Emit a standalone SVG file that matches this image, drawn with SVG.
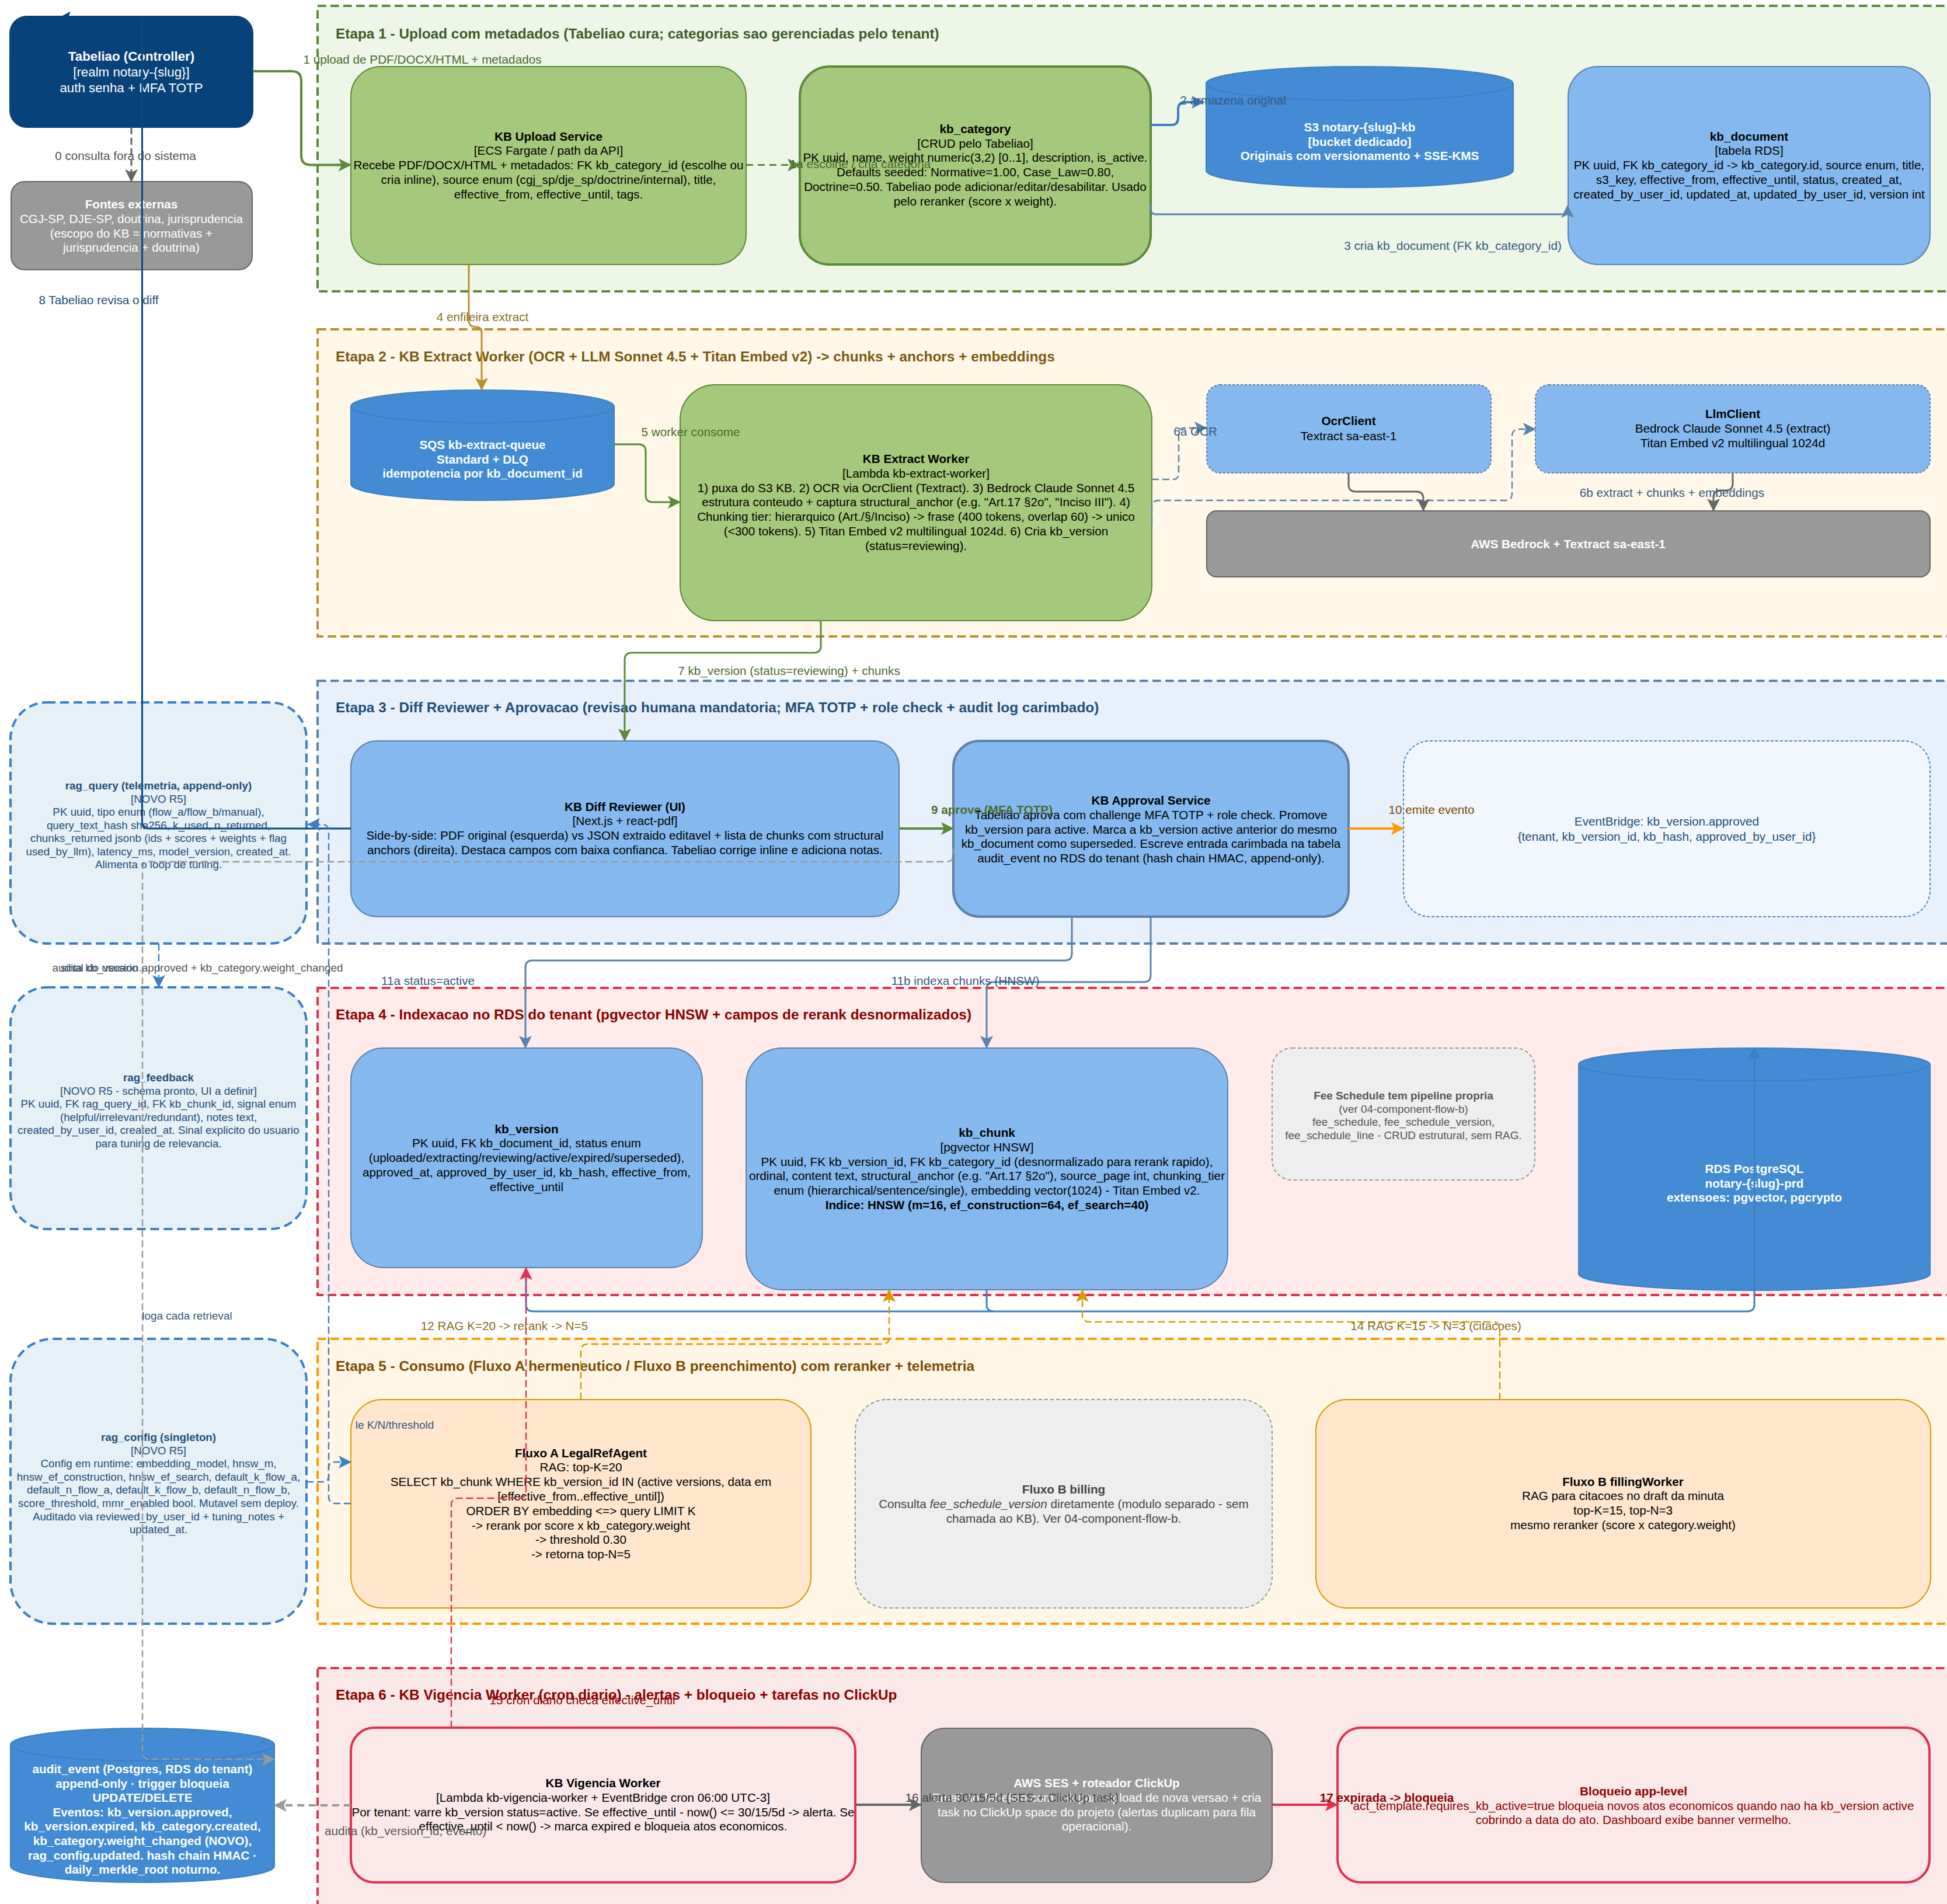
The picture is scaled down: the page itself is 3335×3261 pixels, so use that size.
<svg xmlns="http://www.w3.org/2000/svg" width="3335" height="3261" viewBox="0 0 3335 3261">
<style>
text{font-family:"Liberation Sans",Arial,sans-serif;font-size:20.7px;text-anchor:middle}
.b{font-weight:700}
.w{fill:#fff}.k{fill:#000}.n{fill:#1f4e79;font-size:18.8px}.g{fill:#555;font-size:18.9px}.gg{fill:#444}.r{fill:#8b0000}.eb{fill:#1f4e79}
.sm{font-size:18.9px}
.st{font-size:24.4px;font-weight:700;text-anchor:start}
.box{stroke-width:2}
.grn{fill:#a5c97c;stroke:#5a8a3a}.blu{fill:#85b8ef;stroke:#5a82aa}.gry{fill:#999;stroke:#666}.org{fill:#ffe6cc;stroke:#d79b00}
.rag{fill:#e6f0f7;stroke:#3c7fc4;stroke-width:4;stroke-dasharray:15 8}
.cyl{fill:#438bd4;stroke:#3d80c4;stroke-width:2}
.stage{stroke-width:4;stroke-dasharray:14.6 7.4}
path.c{fill:none;stroke-width:3}
path.d{stroke-width:2.4;stroke-dasharray:12 6}
</style>
<defs>
<marker id="mGreen" markerUnits="userSpaceOnUse" markerWidth="22" markerHeight="22" viewBox="0 0 22 22" refX="21" refY="11" orient="auto"><path d="M0 0L22 11L0 22L5 11Z" fill="#5a8a3a"/></marker>
<marker id="mGold" markerUnits="userSpaceOnUse" markerWidth="22" markerHeight="22" viewBox="0 0 22 22" refX="21" refY="11" orient="auto"><path d="M0 0L22 11L0 22L5 11Z" fill="#b8902a"/></marker>
<marker id="mBlue" markerUnits="userSpaceOnUse" markerWidth="22" markerHeight="22" viewBox="0 0 22 22" refX="21" refY="11" orient="auto"><path d="M0 0L22 11L0 22L5 11Z" fill="#3c7fc4"/></marker>
<marker id="mSteel" markerUnits="userSpaceOnUse" markerWidth="22" markerHeight="22" viewBox="0 0 22 22" refX="21" refY="11" orient="auto"><path d="M0 0L22 11L0 22L5 11Z" fill="#5a82aa"/></marker>
<marker id="mGrey" markerUnits="userSpaceOnUse" markerWidth="22" markerHeight="22" viewBox="0 0 22 22" refX="21" refY="11" orient="auto"><path d="M0 0L22 11L0 22L5 11Z" fill="#666"/></marker>
<marker id="mLGrey" markerUnits="userSpaceOnUse" markerWidth="22" markerHeight="22" viewBox="0 0 22 22" refX="21" refY="11" orient="auto"><path d="M0 0L22 11L0 22L5 11Z" fill="#999"/></marker>
<marker id="mOrange" markerUnits="userSpaceOnUse" markerWidth="22" markerHeight="22" viewBox="0 0 22 22" refX="21" refY="11" orient="auto"><path d="M0 0L22 11L0 22L5 11Z" fill="#ff9900"/></marker>
<marker id="mAmber" markerUnits="userSpaceOnUse" markerWidth="22" markerHeight="22" viewBox="0 0 22 22" refX="21" refY="11" orient="auto"><path d="M0 0L22 11L0 22L5 11Z" fill="#d79b00"/></marker>
<marker id="mRed" markerUnits="userSpaceOnUse" markerWidth="22" markerHeight="22" viewBox="0 0 22 22" refX="21" refY="11" orient="auto"><path d="M0 0L22 11L0 22L5 11Z" fill="#e0324f"/></marker>
</defs>
<rect width="3335" height="3261" fill="#fff"/>

<g id="stages">
<g id="stage-1"><rect class="stage" x="544" y="10" width="2800" height="489" fill="#eef6e8" stroke="#5a8a3a"/><text class="st" x="575" y="66" fill="#3d5c28">Etapa 1 - Upload com metadados (Tabeliao cura; categorias sao gerenciadas pelo tenant)</text></g>
<g id="stage-2"><rect class="stage" x="544" y="564" width="2800" height="526" fill="#fff7e8" stroke="#b8902a"/><text class="st" x="575" y="619" fill="#7a5a10">Etapa 2 - KB Extract Worker (OCR + LLM Sonnet 4.5 + Titan Embed v2) -&gt; chunks + anchors + embeddings</text></g>
<g id="stage-3"><rect class="stage" x="544" y="1166" width="2800" height="450" fill="#e8f1fb" stroke="#5a82aa"/><text class="st" x="575" y="1220" fill="#1f4e79">Etapa 3 - Diff Reviewer + Aprovacao (revisao humana mandatoria; MFA TOTP + role check + audit log carimbado)</text></g>
<g id="stage-4"><rect class="stage" x="544" y="1692" width="2800" height="526" fill="#ffecea" stroke="#e0324f"/><text class="st" x="575" y="1746" fill="#8b0000">Etapa 4 - Indexacao no RDS do tenant (pgvector HNSW + campos de rerank desnormalizados)</text></g>
<g id="stage-5"><rect class="stage" x="544" y="2293" width="2800" height="488" fill="#fff6e5" stroke="#ff9900"/><text class="st" x="575" y="2348" fill="#7a4b00">Etapa 5 - Consumo (Fluxo A hermeneutico / Fluxo B preenchimento) com reranker + telemetria</text></g>
<g id="stage-6"><rect class="stage" x="544" y="2857" width="2800" height="420" fill="#fbe9ea" stroke="#e0324f"/><text class="st" x="575" y="2911" fill="#8b0000">Etapa 6 - KB Vigencia Worker (cron diario) - alertas + bloqueio + tarefas no ClickUp</text></g>
</g>

<g id="nodes">
<g id="tabeliao"><rect x="17" y="28" width="416" height="190" rx="29" fill="#08427a" stroke="#08427a" stroke-width="2"/>
<text class="w" style="font-size:22.3px" x="225" y="104"><tspan class="b">Tabeliao (Controller)</tspan><tspan x="225" dy="27">[realm notary-{slug}]</tspan><tspan x="225" dy="27">auth senha + MFA TOTP</tspan></text></g>
<g id="fontes"><rect class="box gry" x="19" y="311" width="413" height="151" rx="23"/>
<text class="w" x="225" y="356.5"><tspan class="b">Fontes externas</tspan><tspan x="225" dy="25">CGJ-SP, DJE-SP, doutrina, jurisprudencia</tspan><tspan x="225" dy="25">(escopo do KB = normativas +</tspan><tspan x="225" dy="24.5">jurisprudencia + doutrina)</tspan></text></g>
<g id="kb-upload"><rect class="box grn" x="601" y="114" width="677" height="339" rx="51"/>
<text class="k" x="939.5" y="240.5"><tspan class="b">KB Upload Service</tspan><tspan x="939.5" dy="24.8">[ECS Fargate / path da API]</tspan><tspan x="939.5" dy="24.8">Recebe PDF/DOCX/HTML + metadados: FK kb_category_id (escolhe ou</tspan><tspan x="939.5" dy="24.8">cria inline), source enum (cgj_sp/dje_sp/doctrine/internal), title,</tspan><tspan x="939.5" dy="24.8">effective_from, effective_until, tags.</tspan></text></g>
<g id="kb-category"><rect class="grn" stroke-width="4" x="1370" y="114" width="601" height="339" rx="51"/>
<text class="k" x="1670.5" y="227.8"><tspan class="b">kb_category</tspan><tspan x="1670.5" dy="24.8">[CRUD pelo Tabeliao]</tspan><tspan x="1670.5" dy="24.8">PK uuid, name, weight numeric(3,2) [0..1], description, is_active.</tspan><tspan x="1670.5" dy="24.8">Defaults seeded: Normative=1.00, Case_Law=0.80,</tspan><tspan x="1670.5" dy="24.8">Doctrine=0.50. Tabeliao pode adicionar/editar/desabilitar. Usado</tspan><tspan x="1670.5" dy="24.8">pelo reranker (score x weight).</tspan></text></g>
<g id="s3"><path class="cyl" d="M2066 143a263 29 0 0 1 526 0V292a263 29 0 0 1-526 0Z"/><path class="cyl" style="fill:none" d="M2066 143a263 29 0 0 0 526 0"/>
<text class="w b" x="2329" y="225">S3 notary-{slug}-kb<tspan x="2329" dy="24.5">[bucket dedicado]</tspan><tspan x="2329" dy="24.5">Originais com versionamento + SSE-KMS</tspan></text></g>
<g id="kb-document"><rect class="box blu" x="2686" y="114" width="620" height="339" rx="51"/>
<text class="k" x="2996" y="240.5"><tspan class="b">kb_document</tspan><tspan x="2996" dy="24.8">[tabela RDS]</tspan><tspan x="2996" dy="24.8">PK uuid, FK kb_category_id -&gt; kb_category.id, source enum, title,</tspan><tspan x="2996" dy="24.8">s3_key, effective_from, effective_until, status, created_at,</tspan><tspan x="2996" dy="24.8">created_by_user_id, updated_at, updated_by_user_id, version int</tspan></text></g>
<g id="sqs"><path class="cyl" d="M601 696a225.5 28 0 0 1 451 0V829a225.5 28 0 0 1-451 0Z"/><path class="cyl" style="fill:none" d="M601 696a225.5 28 0 0 0 451 0"/>
<text class="w b" x="826.5" y="769">SQS kb-extract-queue<tspan x="826.5" dy="24.5">Standard + DLQ</tspan><tspan x="826.5" dy="24.5">idempotencia por kb_document_id</tspan></text></g>
<g id="kb-extract"><rect class="box grn" x="1165" y="659" width="808" height="404" rx="60"/>
<text class="k" x="1569" y="793"><tspan class="b">KB Extract Worker</tspan><tspan x="1569" dy="24.8">[Lambda kb-extract-worker]</tspan><tspan x="1569" dy="24.8">1) puxa do S3 KB. 2) OCR via OcrClient (Textract). 3) Bedrock Claude Sonnet 4.5</tspan><tspan x="1569" dy="24.8">estrutura conteudo + captura structural_anchor (e.g. "Art.17 §2o", "Inciso III"). 4)</tspan><tspan x="1569" dy="24.8">Chunking tier: hierarquico (Art./§/Inciso) -&gt; frase (400 tokens, overlap 60) -&gt; unico</tspan><tspan x="1569" dy="24.8">(&lt;300 tokens). 5) Titan Embed v2 multilingual 1024d. 6) Cria kb_version</tspan><tspan x="1569" dy="24.8">(status=reviewing).</tspan></text></g>
<g id="ocr-client"><rect class="box blu" stroke-dasharray="4 3" x="2067" y="659" width="487" height="151" rx="23"/>
<text class="k" x="2310" y="728"><tspan class="b">OcrClient</tspan><tspan x="2310" dy="26">Textract sa-east-1</tspan></text></g>
<g id="llm-client"><rect class="box blu" stroke-dasharray="4 3" x="2630" y="659" width="676" height="151" rx="23"/>
<text class="k" x="2968" y="716"><tspan class="b">LlmClient</tspan><tspan x="2968" dy="24.8">Bedrock Claude Sonnet 4.5 (extract)</tspan><tspan x="2968" dy="24.8">Titan Embed v2 multilingual 1024d</tspan></text></g>
<g id="aws-bedrock"><rect class="box gry" x="2067" y="875" width="1239" height="113" rx="17"/>
<text class="w b" x="2686" y="938.5">AWS Bedrock + Textract sa-east-1</text></g>
<g id="rag-query"><rect class="rag" x="18" y="1203" width="507" height="413" rx="62"/>
<text class="n" x="271.5" y="1352"><tspan class="b">rag_query (telemetria, append-only)</tspan><tspan x="271.5" dy="22.5">[NOVO R5]</tspan><tspan x="271.5" dy="22.5">PK uuid, tipo enum (flow_a/flow_b/manual),</tspan><tspan x="271.5" dy="22.5">query_text_hash sha256, k_used, n_returned,</tspan><tspan x="271.5" dy="22.5">chunks_returned jsonb (ids + scores + weights + flag</tspan><tspan x="271.5" dy="22.5">used_by_llm), latency_ms, model_version, created_at.</tspan><tspan x="271.5" dy="22.5">Alimenta o loop de tuning.</tspan></text></g>
<g id="kb-diff"><rect class="box blu" x="601" y="1269" width="939" height="301" rx="45"/>
<text class="k" x="1070.5" y="1388.5"><tspan class="b">KB Diff Reviewer (UI)</tspan><tspan x="1070.5" dy="24.8">[Next.js + react-pdf]</tspan><tspan x="1070.5" dy="24.8">Side-by-side: PDF original (esquerda) vs JSON extraido editavel + lista de chunks com structural</tspan><tspan x="1070.5" dy="24.8">anchors (direita). Destaca campos com baixa confianca. Tabeliao corrige inline e adiciona notas.</tspan></text></g>
<g id="kb-approval"><rect class="blu" stroke-width="4" x="1633" y="1269" width="677" height="301" rx="45"/>
<text class="k" x="1971.5" y="1378"><tspan class="b">KB Approval Service</tspan><tspan x="1971.5" dy="24.8">Tabeliao aprova com challenge MFA TOTP + role check. Promove</tspan><tspan x="1971.5" dy="24.8">kb_version para active. Marca a kb_version active anterior do mesmo</tspan><tspan x="1971.5" dy="24.8">kb_document como superseded. Escreve entrada carimbada na tabela</tspan><tspan x="1971.5" dy="24.8">audit_event no RDS do tenant (hash chain HMAC, append-only).</tspan></text></g>
<g id="eventbridge"><rect fill="#f2f7fe" stroke="#4a86c8" stroke-width="2" stroke-dasharray="5 3" x="2404" y="1269" width="902" height="301" rx="45"/>
<text class="eb" x="2855" y="1414">EventBridge: kb_version.approved<tspan x="2855" dy="25.5">{tenant, kb_version_id, kb_hash, approved_by_user_id}</tspan></text></g>
<g id="rag-feedback"><rect class="rag" x="18" y="1691" width="507" height="414" rx="62"/>
<text class="n" x="271.5" y="1852"><tspan class="b">rag_feedback</tspan><tspan x="271.5" dy="22.5">[NOVO R5 - schema pronto, UI a definir]</tspan><tspan x="271.5" dy="22.5">PK uuid, FK rag_query_id, FK kb_chunk_id, signal enum</tspan><tspan x="271.5" dy="22.5">(helpful/irrelevant/redundant), notes text,</tspan><tspan x="271.5" dy="22.5">created_by_user_id, created_at. Sinal explicito do usuario</tspan><tspan x="271.5" dy="22.5">para tuning de relevancia.</tspan></text></g>
<g id="kb-version"><rect class="box blu" x="601" y="1795" width="602" height="376" rx="56"/>
<text class="k" x="902" y="1940.5"><tspan class="b">kb_version</tspan><tspan x="902" dy="24.8">PK uuid, FK kb_document_id, status enum</tspan><tspan x="902" dy="24.8">(uploaded/extracting/reviewing/active/expired/superseded),</tspan><tspan x="902" dy="24.8">approved_at, approved_by_user_id, kb_hash, effective_from,</tspan><tspan x="902" dy="24.8">effective_until</tspan></text></g>
<g id="kb-chunk"><rect class="box blu" x="1278" y="1795" width="825" height="414" rx="62"/>
<text class="k" x="1690.5" y="1947"><tspan class="b">kb_chunk</tspan><tspan x="1690.5" dy="24.8">[pgvector HNSW]</tspan><tspan x="1690.5" dy="24.8">PK uuid, FK kb_version_id, FK kb_category_id (desnormalizado para rerank rapido),</tspan><tspan x="1690.5" dy="24.8">ordinal, content text, structural_anchor (e.g. "Art.17 §2o"), source_page int, chunking_tier</tspan><tspan x="1690.5" dy="24.8">enum (hierarchical/sentence/single), embedding vector(1024) - Titan Embed v2.</tspan><tspan x="1690.5" dy="24.8" class="b">Indice: HNSW (m=16, ef_construction=64, ef_search=40)</tspan></text></g>
<g id="fee-schedule"><rect fill="#eee" stroke="#999" stroke-width="2" stroke-dasharray="6 4" x="2179" y="1795" width="450" height="226" rx="34"/>
<text class="g" x="2404" y="1883"><tspan class="b">Fee Schedule tem pipeline propria</tspan><tspan x="2404" dy="22.5">(ver 04-component-flow-b)</tspan><tspan x="2404" dy="22.5">fee_schedule, fee_schedule_version,</tspan><tspan x="2404" dy="22.5">fee_schedule_line - CRUD estrutural, sem RAG.</tspan></text></g>
<g id="rds"><path class="cyl" d="M2704 1823a301 28 0 0 1 602 0V2182a301 28 0 0 1-602 0Z"/><path class="cyl" style="fill:none" d="M2704 1823a301 28 0 0 0 602 0"/>
<text class="w b" x="3005" y="2009">RDS PostgreSQL<tspan x="3005" dy="24.5">notary-{slug}-prd</tspan><tspan x="3005" dy="24.5">extensoes: pgvector, pgcrypto</tspan></text></g>
<g id="rag-config"><rect class="rag" x="18" y="2293" width="507" height="488" rx="73"/>
<text class="n" x="271.5" y="2468"><tspan class="b">rag_config (singleton)</tspan><tspan x="271.5" dy="22.6">[NOVO R5]</tspan><tspan x="271.5" dy="22.6">Config em runtime: embedding_model, hnsw_m,</tspan><tspan x="271.5" dy="22.6">hnsw_ef_construction, hnsw_ef_search, default_k_flow_a,</tspan><tspan x="271.5" dy="22.6">default_n_flow_a, default_k_flow_b, default_n_flow_b,</tspan><tspan x="271.5" dy="22.6">score_threshold, mmr_enabled bool. Mutavel sem deploy.</tspan><tspan x="271.5" dy="22.6">Auditado via reviewed_by_user_id + tuning_notes +</tspan><tspan x="271.5" dy="22.6">updated_at.</tspan></text></g>
<g id="fluxo-a"><rect class="box org" x="601" y="2397" width="788" height="357" rx="54"/>
<text class="k" x="995" y="2495.5"><tspan class="b">Fluxo A LegalRefAgent</tspan><tspan x="995" dy="24.8">RAG: top-K=20</tspan><tspan x="995" dy="24.8">SELECT kb_chunk WHERE kb_version_id IN (active versions, data em</tspan><tspan x="995" dy="24.8">[effective_from..effective_until])</tspan><tspan x="995" dy="24.8">ORDER BY embedding &lt;=&gt; query LIMIT K</tspan><tspan x="995" dy="24.8">-&gt; rerank por score x kb_category.weight</tspan><tspan x="995" dy="24.8">-&gt; threshold 0.30</tspan><tspan x="995" dy="24.8">-&gt; retorna top-N=5</tspan></text></g>
<g id="fluxo-b-billing"><rect fill="#eee" stroke="#999" stroke-width="2" stroke-dasharray="6 4" x="1465" y="2397" width="714" height="357" rx="54"/>
<text class="gg" x="1822" y="2558"><tspan class="b">Fluxo B billing</tspan><tspan x="1822" dy="24.8">Consulta <tspan font-style="italic">fee_schedule_version</tspan> diretamente (modulo separado - sem</tspan><tspan x="1822" dy="24.8">chamada ao KB). Ver 04-component-flow-b.</tspan></text></g>
<g id="fluxo-b-filling"><rect class="box org" x="2254" y="2397" width="1053" height="357" rx="54"/>
<text class="k" x="2780" y="2544.5"><tspan class="b">Fluxo B fillingWorker</tspan><tspan x="2780" dy="24.8">RAG para citacoes no draft da minuta</tspan><tspan x="2780" dy="24.8">top-K=15, top-N=3</tspan><tspan x="2780" dy="24.8">mesmo reranker (score x category.weight)</tspan></text></g>
<g id="audit-event"><path class="cyl" d="M18 2988a226 28 0 0 1 452 0V3196a226 28 0 0 1-452 0Z"/><path class="cyl" style="fill:none" d="M18 2988a226 28 0 0 0 452 0"/>
<text class="w b" x="244" y="3037">audit_event (Postgres, RDS do tenant)<tspan x="244" dy="24.6">append-only · trigger bloqueia</tspan><tspan x="244" dy="24.6">UPDATE/DELETE</tspan><tspan x="244" dy="24.6">Eventos: kb_version.approved,</tspan><tspan x="244" dy="24.6">kb_version.expired, kb_category.created,</tspan><tspan x="244" dy="24.6">kb_category.weight_changed (NOVO),</tspan><tspan x="244" dy="24.6">rag_config.updated. hash chain HMAC ·</tspan><tspan x="244" dy="24.6">daily_merkle_root noturno.</tspan></text></g>
<g id="kb-vigencia"><rect fill="#fbe9ea" stroke="#e0324f" stroke-width="4" x="601" y="2959" width="864" height="265" rx="40"/>
<text class="k" x="1033" y="3061"><tspan class="b">KB Vigencia Worker</tspan><tspan x="1033" dy="24.8">[Lambda kb-vigencia-worker + EventBridge cron 06:00 UTC-3]</tspan><tspan x="1033" dy="24.8">Por tenant: varre kb_version status=active. Se effective_until - now() &lt;= 30/15/5d -&gt; alerta. Se</tspan><tspan x="1033" dy="24.8">effective_until &lt; now() -&gt; marca expired e bloqueia atos economicos.</tspan></text></g>
<g id="aws-ses"><rect class="box gry" x="1578" y="2960" width="601" height="264" rx="40"/>
<text class="w" x="1878.5" y="3061"><tspan class="b">AWS SES + roteador ClickUp</tspan><tspan x="1878.5" dy="24.8">Email ao Tabeliao com link para upload de nova versao + cria</tspan><tspan x="1878.5" dy="24.8">task no ClickUp space do projeto (alertas duplicam para fila</tspan><tspan x="1878.5" dy="24.8">operacional).</tspan></text></g>
<g id="bloqueio"><rect fill="#fbe9ea" stroke="#e0324f" stroke-width="4" x="2291" y="2959" width="1014" height="265" rx="40"/>
<text class="r" x="2798" y="3075"><tspan class="b">Bloqueio app-level</tspan><tspan x="2798" dy="24.5">act_template.requires_kb_active=true bloqueia novos atos economicos quando nao ha kb_version active</tspan><tspan x="2798" dy="24.5">cobrindo a data do ato. Dashboard exibe banner vermelho.</tspan></text></g>
</g>

<g id="connectors">
<path class="c" stroke="#666" stroke-dasharray="12 6" marker-end="url(#mGrey)" d="M225 218V311"/>
<path class="c" stroke="#5a8a3a" style="stroke-width:4" marker-end="url(#mGreen)" d="M433 122H500Q516 122 516 138V266Q516 282.5 532 282.5H601"/>
<path class="c" stroke="#5a8a3a" stroke-dasharray="12 8" marker-end="url(#mGreen)" d="M1278 282.5H1370"/>
<path class="c" stroke="#3c7fc4" style="stroke-width:4" marker-end="url(#mBlue)" d="M1971 214H2006Q2018 214 2018 202V187Q2018 175 2030 175H2062"/>
<path class="c" stroke="#5a82aa" marker-end="url(#mSteel)" d="M1971 350V358Q1971 367 1980 367H2677Q2685 367 2685 362V352"/>
<path class="c" stroke="#b8902a" marker-end="url(#mGold)" d="M803 453V548Q803 560 815 560Q825 560 825 570V668"/>
<path class="c" stroke="#5a8a3a" marker-end="url(#mGreen)" d="M1052 761H1094Q1106 761 1106 773V848Q1106 860 1118 860H1165"/>
<path class="c d" stroke="#5a82aa" marker-end="url(#mSteel)" d="M1973 821H2009Q2019 821 2019 811V743Q2019 733 2029 733H2067"/>
<path class="c d" stroke="#5a82aa" marker-end="url(#mSteel)" d="M1973 895V869Q1973 857 1985 857H2578Q2590 857 2590 845V747Q2590 735 2602 735H2630"/>
<path class="c" stroke="#666" marker-end="url(#mGrey)" d="M2310 810V830Q2310 842 2322 842H2426Q2438 842 2438 854V875"/>
<path class="c" stroke="#666" marker-end="url(#mGrey)" d="M2968 810V828Q2968 840 2956 840H2947Q2935 840 2935 852V875"/>
<path class="c" stroke="#5a8a3a" marker-end="url(#mGreen)" d="M1406 1063V1106Q1406 1118 1394 1118H1082Q1070 1118 1070 1130V1269"/>
<path class="c" stroke="#0a4a85" d="M601 1419H255Q243.5 1419 243.5 1408V30"/>
<polygon points="105,28 121,19.5 117,29" fill="#08427a"/>
<path class="c" stroke="#5a8a3a" style="stroke-width:4" marker-end="url(#mGreen)" d="M1540 1419H1633"/>
<path class="c" stroke="#ff9900" style="stroke-width:4" marker-end="url(#mOrange)" d="M2310 1419H2404"/>
<path class="c d" stroke="#999" marker-end="url(#mLGrey)" d="M1633 1452V1464Q1633 1476 1621 1476H256Q244 1476 244 1488V3001Q244 3013 256 3013H470"/>
<path class="c d" stroke="#3c7fc4" marker-end="url(#mBlue)" d="M272 1616V1691"/>
<path class="c d" stroke="#3c7fc4" marker-end="url(#mBlue)" d="M601 2575H575Q563 2575 563 2563V1424Q563 1412 551 1412H527"/>
<path class="c d" stroke="#3c7fc4" marker-end="url(#mBlue)" d="M525 2538H553Q563 2538 563 2528V2514Q563 2504 573 2504H601"/>
<path class="c" stroke="#5a82aa" marker-end="url(#mSteel)" d="M1836 1570V1633Q1836 1645 1824 1645H912Q900 1645 900 1657V1795"/>
<path class="c" stroke="#5a82aa" marker-end="url(#mSteel)" d="M1971 1570V1670Q1971 1682 1959 1682H1702Q1690 1682 1690 1694V1795"/>
<path class="c" stroke="#3c7fc4" marker-end="url(#mBlue)" d="M901 2171V2234Q901 2246 913 2246H2993Q3005 2246 3005 2234V1795"/>
<path class="c" stroke="#3c7fc4" d="M1690 2209V2234Q1690 2246 1702 2246"/>
<path class="c d" stroke="#e0324f" marker-end="url(#mRed)" d="M773 2959V2578Q773 2566 785 2566H889Q901 2566 901 2554V2171"/>
<path class="c d" stroke="#d79b00" marker-end="url(#mAmber)" d="M995 2397V2314Q995 2302 1007 2302H1511Q1523 2302 1523 2290V2209"/>
<path class="c d" stroke="#d79b00" marker-end="url(#mAmber)" d="M2569 2397V2276Q2569 2264 2557 2264H1866Q1854 2264 1854 2252V2209"/>
<path class="c" stroke="#666" style="stroke-width:4" marker-end="url(#mGrey)" d="M1465 3091H1578"/>
<path class="c" stroke="#e0324f" style="stroke-width:4" marker-end="url(#mRed)" d="M2179 3091H2291"/>
<path class="c" stroke="#999" style="stroke-width:4" stroke-dasharray="12 8" marker-end="url(#mLGrey)" d="M601 3092H470"/>

<g id="connector-labels">
<text fill="#555" x="215" y="274">0 consulta fora do sistema</text>
<text fill="#4a6b2e" x="723.5" y="109">1 upload de PDF/DOCX/HTML + metadados</text>
<text fill="#4a6b2e" x="1473.5" y="288">1a escolhe / cria categoria</text>
<text fill="#35597f" x="2112" y="179">2 armazena original</text>
<text fill="#35597f" x="2488.5" y="428">3 cria kb_document (FK kb_category_id)</text>
<text fill="#8a6d1f" x="826.5" y="550">4 enfileira extract</text>
<text fill="#4a6b2e" x="1183" y="747">5 worker consome</text>
<text fill="#35597f" x="2047.5" y="746">6a OCR</text>
<text fill="#35597f" x="2864" y="851">6b extract + chunks + embeddings</text>
<text fill="#4a6b2e" x="1351.5" y="1156">7 kb_version (status=reviewing) + chunks</text>
<text fill="#1f4e79" x="169" y="521">8 Tabeliao revisa o diff</text>
<text class="b" fill="#4a6b2e" x="1699" y="1394">9 aprove (MFA TOTP)</text>
<text fill="#7a4b00" x="2452" y="1394">10 emite evento</text>
<text class="sm" fill="#555" x="338.5" y="1664">audita kb_version.approved + kb_category.weight_changed</text>
<text class="sm" fill="#35597f" x="170" y="1664">sinal do usuario</text>
<text fill="#35597f" x="733" y="1687">11a status=active</text>
<text fill="#35597f" x="1653.5" y="1687">11b indexa chunks (HNSW)</text>
<text class="sm" fill="#35597f" x="320.5" y="2260">loga cada retrieval</text>
<text fill="#8a6d1f" x="864" y="2278">12 RAG K=20 -&gt; rerank -&gt; N=5</text>
<text fill="#8a6d1f" x="2459.5" y="2278">14 RAG K=15 -&gt; N=3 (citacoes)</text>
<text class="sm" fill="#35597f" x="676" y="2447">le K/N/threshold</text>
<text fill="#8b0000" x="997.5" y="2919">15 cron diario checa effective_until</text>
<text fill="#444" x="1733.5" y="3086">16 alerta 30/15/5d (SES + ClickUp task)</text>
<text class="b" fill="#8b0000" x="2375.5" y="3086">17 expirada -&gt; bloqueia</text>
<text fill="#555" x="694.5" y="3143">audita (kb_version_id, evento)</text>
</g>
</g>
</svg>
